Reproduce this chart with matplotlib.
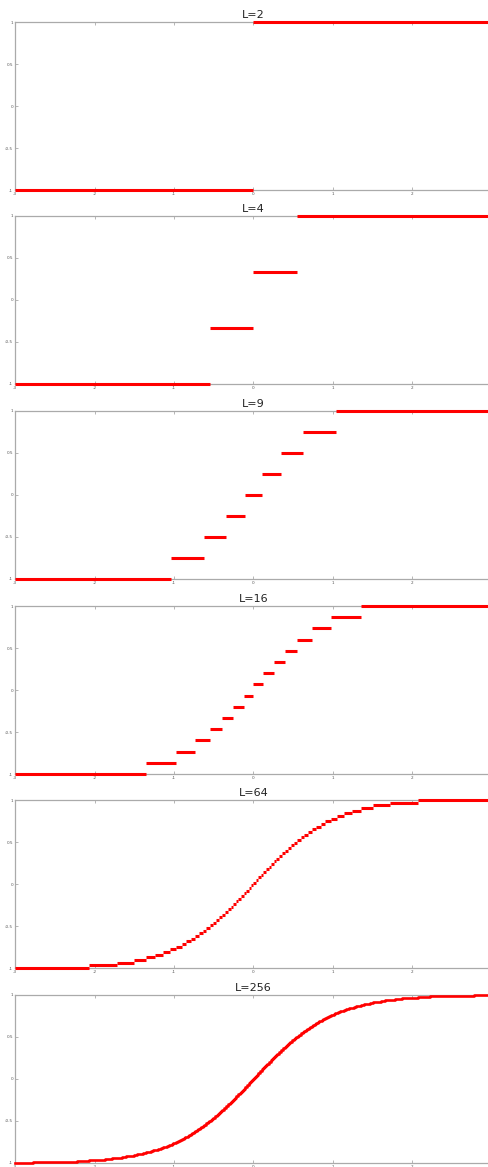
import numpy as np
import matplotlib
matplotlib.use('Agg')
import matplotlib.pyplot as plt


# quantization levels shown in each panel
levels = [2, 4, 9, 16, 64, 256]
titles = ['L=2', 'L=4', 'L=9', 'L=16', 'L=64', 'L=256']
x_range = (-3.0, 3.0)
x_ticks = [-3, -2, -1, 0, 1, 2]
y_ticks = [-1, -0.5, 0, 0.5, 1]
y_labels = ['-1', '-0.5', '0', '0.5', '1']

# panel tops in pixels (figure is 488x1167)
panel_tops = [22, 216, 411, 606, 800, 995]
PANEL_H = 168
LEFT = 15
WIDTH = 477
W, H = 488, 1167


# steps of tanh quantized to L levels: one horizontal segment per level
def quant_steps(L):
    k = np.arange(L)
    lo = np.arctanh(np.clip(2 * k / L - 1, -1, 1))
    hi = np.arctanh(np.clip(2 * (k + 1) / L - 1, -1, 1))
    lo = np.clip(lo, *x_range)
    hi = np.clip(hi, *x_range)
    y = 2 * k / (L - 1) - 1
    keep = hi > lo
    return y[keep], lo[keep], hi[keep]


fig = plt.figure(figsize=(W / 100, H / 100), dpi=100)

for L, title, top in zip(levels, titles, panel_tops):
    ax = fig.add_axes([LEFT / W, 1 - (top + PANEL_H) / H, WIDTH / W, PANEL_H / H])
    y, lo, hi = quant_steps(L)
    if L > 100:
        # steps are finer than a pixel: draw them as one connected line
        xs = np.column_stack([lo, hi]).ravel()
        ys = np.repeat(y, 2)
        ax.plot(xs, ys, color='red', lw=1.9, zorder=3, clip_on=False,
                solid_joinstyle='round')
    else:
        segs = ax.hlines(y, lo, hi, color='red', lw=2.2, zorder=3, clip_on=False)
        segs.set_capstyle('butt')
    ax.set_xlim(*x_range)
    ax.set_ylim(-1, 1)
    ax.set_xticks(x_ticks)
    ax.set_xticklabels([str(t) for t in x_ticks])
    ax.set_yticks(y_ticks)
    ax.set_yticklabels(y_labels)
    ax.tick_params(direction='in', length=2, width=0.5, labelsize=3,
                   colors='#999999', labelcolor='#555555', pad=1.5,
                   top=True, right=False)
    for s in ax.spines.values():
        s.set_color('#aaaaaa')
        s.set_linewidth(0.9)
    ax.set_title(title, fontsize=8, color='#222222', pad=3)

fig.savefig('out.png', dpi=100)
